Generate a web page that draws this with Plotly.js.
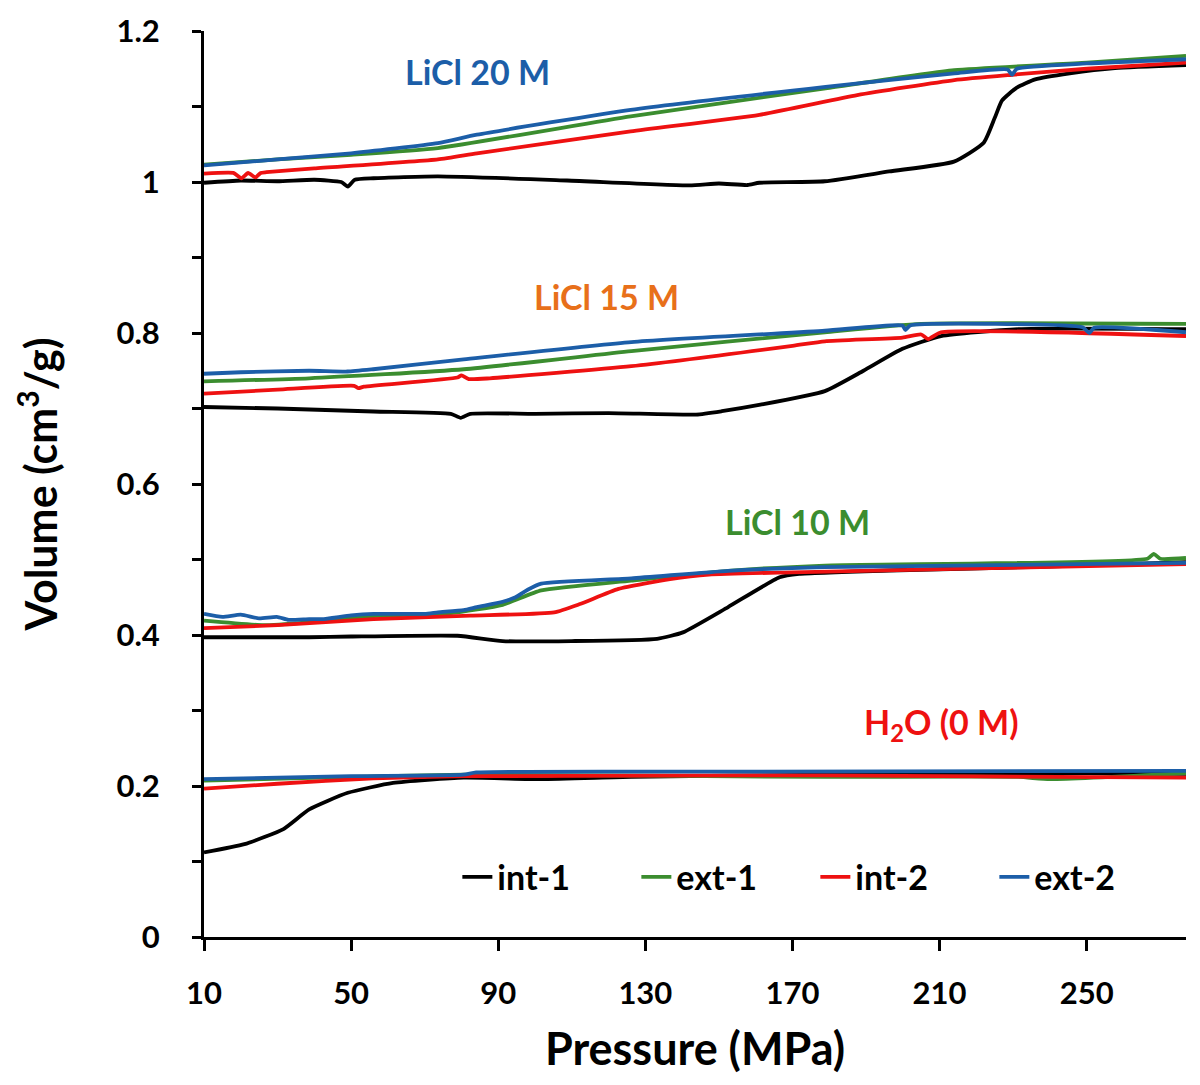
<!DOCTYPE html>
<html>
<head>
<meta charset="utf-8">
<script src="https://cdn.plot.ly/plotly-3.0.1.min.js"></script>
<style>
  html, body { margin: 0; padding: 0; background: #fff; }
  #chart { width: 1200px; height: 1085px; }
</style>
</head>
<body>
<div id="chart"></div>
<script>
// ---------- DATA ----------
const seriesNames = ["int-1", "ext-1", "int-2", "ext-2"];
const seriesColors = ["#000000", "#3b8d2f", "#ee1111", "#1c5ea8"];

// LiCl 20 M
const x20_int1 = [10, 20, 30, 40, 47.3, 49.1, 51, 56.1, 73.6, 108.7, 142, 150, 157.8, 161, 178.8, 196.3, 213.9, 222, 225, 227, 231, 236, 245.4, 257.7, 277];
const y20_int1 = [0.999, 1.002, 1.001, 1.003, 1.000, 0.994, 1.003, 1.005, 1.0075, 1.002, 0.9956, 0.998, 0.996, 0.999, 1.001, 1.014, 1.027, 1.052, 1.085, 1.108, 1.125, 1.136, 1.144, 1.151, 1.155];
const x20_ext1 = [10, 30, 50, 73.6, 126, 179, 214, 250, 277];
const y20_ext1 = [1.023, 1.030, 1.036, 1.045, 1.087, 1.124, 1.148, 1.158, 1.167];
const x20_int2 = [10, 18, 20.2, 22, 24, 25.4, 27, 40, 73.6, 84.2, 126, 161, 187.6, 214, 229.7, 250, 277];
const y20_int2 = [1.011, 1.012, 1.005, 1.012, 1.006, 1.012, 1.013, 1.018, 1.030, 1.038, 1.067, 1.089, 1.115, 1.135, 1.142, 1.150, 1.158];
const x20_ext2 = [10, 30, 50, 73.6, 84.2, 126, 179, 214, 228.5, 229.7, 231, 250, 277];
const y20_ext2 = [1.022, 1.030, 1.038, 1.0515, 1.0626, 1.0956, 1.126, 1.144, 1.149, 1.142, 1.150, 1.157, 1.1626];

// LiCl 15 M
const x15_int1 = [10, 30, 56.1, 77.1, 79.8, 82.4, 100, 120, 143.8, 150.8, 161.3, 178.8, 189.3, 199.9, 210.4, 231.4, 277];
const y15_int1 = [0.702, 0.700, 0.696, 0.693, 0.6876, 0.693, 0.693, 0.694, 0.692, 0.6964, 0.705, 0.723, 0.750, 0.779, 0.796, 0.805, 0.805];
const x15_ext1 = [10, 38.6, 80.6, 126.2, 178.8, 205, 277];
const y15_ext1 = [0.736, 0.740, 0.752, 0.776, 0.801, 0.812, 0.812];
const x15_int2 = [10, 30, 50.8, 52, 53.5, 78.9, 80, 82, 87.7, 126.2, 170, 178.8, 199.9, 205, 206.9, 210.4, 277];
const y15_int2 = [0.7196, 0.725, 0.730, 0.727, 0.729, 0.741, 0.744, 0.739, 0.740, 0.756, 0.783, 0.789, 0.794, 0.798, 0.792, 0.801, 0.796];
const x15_ext2 = [10, 20, 38.6, 49, 56, 80.6, 126.2, 178.8, 199.9, 200.7, 202, 248.9, 250.7, 252, 277];
const y15_ext2 = [0.746, 0.748, 0.750, 0.749, 0.752, 0.765, 0.788, 0.803, 0.810, 0.804, 0.810, 0.8075, 0.800, 0.807, 0.801];

// LiCl 10 M
const x10_int1 = [10, 38.6, 50, 78.9, 91.2, 110, 133.2, 140.2, 152.5, 166.5, 171.8, 196.3, 234.9, 277];
const y10_int1 = [0.397, 0.397, 0.398, 0.399, 0.392, 0.392, 0.395, 0.4035, 0.437, 0.4765, 0.481, 0.4854, 0.490, 0.4965];
const x10_ext1 = [10, 26.3, 38.6, 56.1, 77.1, 91.2, 101.7, 126.2, 152.5, 178.8, 266.5, 268.2, 270, 277];
const y10_ext1 = [0.419, 0.413, 0.417, 0.425, 0.429, 0.440, 0.459, 0.472, 0.485, 0.492, 0.501, 0.5075, 0.501, 0.502];
const x10_int2 = [10, 30, 56.1, 82.4, 105.2, 112.2, 122.7, 136.7, 147.3, 170, 213.9, 277];
const y10_int2 = [0.409, 0.413, 0.421, 0.4257, 0.430, 0.441, 0.461, 0.474, 0.480, 0.483, 0.4876, 0.494];
const x10_ext2 = [10, 15, 20, 25, 29.8, 33, 38.6, 42.1, 50, 56.1, 70, 73.6, 80.6, 84.2, 91.2, 94.7, 98, 101.7, 126.2, 152.5, 178.8, 277];
const y10_ext2 = [0.428, 0.424, 0.427, 0.422, 0.424, 0.420, 0.421, 0.421, 0.426, 0.428, 0.428, 0.430, 0.433, 0.437, 0.444, 0.450, 0.460, 0.468, 0.475, 0.485, 0.490, 0.4956];

// H2O (0 M)
const x0_int1 = [10, 21, 31.6, 38.6, 49.1, 61.4, 80.6, 101.7, 126.2, 178.8, 248.9, 277];
const y0_int1 = [0.112, 0.123, 0.143, 0.169, 0.191, 0.204, 0.211, 0.209, 0.212, 0.215, 0.217, 0.216];
const x0_ext1 = [10, 50, 80.6, 178.8, 231.4, 240, 277];
const y0_ext1 = [0.207, 0.212, 0.215, 0.212, 0.212, 0.209, 0.217];
const x0_int2 = [10, 30, 56.1, 80.6, 178.8, 277];
const y0_int2 = [0.1965, 0.203, 0.210, 0.213, 0.214, 0.211];
const x0_ext2 = [10, 50, 80.6, 84, 150, 277];
const y0_ext2 = [0.209, 0.213, 0.215, 0.218, 0.219, 0.220];

const groupLabels = ["LiCl 20 M", "LiCl 15 M", "LiCl 10 M", "H<sub>2</sub>O (0 M)"];
const groupLabelColors = ["#1c5ea8", "#e8701a", "#3b8d2f", "#ee1111"];
const groupLabelX = [84.4, 119.4, 171.3, 210.4];
const groupLabelY = [1.146, 0.848, 0.550, 0.282];

const xTickVals = [10, 50, 90, 130, 170, 210, 250];
const yTickVals = [0, 0.2, 0.4, 0.6, 0.8, 1, 1.2];
const yTickText = ["0", "0.2", "0.4", "0.6", "0.8", "1", "1.2"];

// ---------- BUILD ----------
const groups = [
  [[x20_int1, y20_int1], [x20_ext1, y20_ext1], [x20_int2, y20_int2], [x20_ext2, y20_ext2]],
  [[x15_int1, y15_int1], [x15_ext1, y15_ext1], [x15_int2, y15_int2], [x15_ext2, y15_ext2]],
  [[x10_int1, y10_int1], [x10_ext1, y10_ext1], [x10_int2, y10_int2], [x10_ext2, y10_ext2]],
  [[x0_int1, y0_int1], [x0_ext1, y0_ext1], [x0_int2, y0_int2], [x0_ext2, y0_ext2]]
];

const traces = [];
groups.forEach((g, gi) => {
  g.forEach((s, si) => {
    traces.push({
      x: s[0], y: s[1], type: "scatter", mode: "lines",
      name: seriesNames[si], legendgroup: seriesNames[si],
      showlegend: gi === 0,
      line: { color: seriesColors[si], width: 3.8, shape: "spline", smoothing: 0.5 }
    });
  });
});

const FONT = "Lato, 'Open Sans', sans-serif";

const annotations = groupLabels.map((t, i) => ({
  x: groupLabelX[i], y: groupLabelY[i], xref: "x", yref: "y",
  text: "<b>" + t + "</b>", showarrow: false,
  font: { family: FONT, size: 34, color: groupLabelColors[i] }
}));

const layout = {
  width: 1200, height: 1085,
  margin: { l: 204, r: 14, t: 31, b: 148 },
  paper_bgcolor: "#fff", plot_bgcolor: "#fff",
  font: { family: FONT, color: "#000" },
  showlegend: true,
  legend: {
    orientation: "h", x: 0.258, xanchor: "left", y: 0.066, yanchor: "middle",
    bgcolor: "rgba(0,0,0,0)", font: { family: FONT, size: 34, color: "#000", weight: "bold" },
    entrywidth: 134, entrywidthmode: "pixels", traceorder: "normal"
  },
  xaxis: {
    range: [10, 277], tickvals: xTickVals, ticktext: xTickVals.map(String),
    showgrid: false, zeroline: false, showline: true, linecolor: "#000", linewidth: 3,
    ticks: "outside", ticklen: 11, tickwidth: 3, tickcolor: "#000",
    ticklabelstandoff: 16,
    tickfont: { family: FONT, size: 31, color: "#000", weight: "bold" },
    title: { text: "<b>Pressure (MPa)</b>", font: { family: FONT, size: 45, color: "#000" }, standoff: 24 }
  },
  yaxis: {
    range: [0, 1.2], tickvals: yTickVals, ticktext: yTickText,
    showgrid: false, zeroline: false, showline: true, linecolor: "#000", linewidth: 3,
    ticks: "outside", ticklen: 9, tickwidth: 3, tickcolor: "#000",
    minor: { dtick: 0.1, ticks: "outside", ticklen: 9, tickwidth: 3, tickcolor: "#000", showgrid: false },
    ticklabelstandoff: 26,
    tickfont: { family: FONT, size: 31, color: "#000", weight: "bold" },
    title: { text: "<b>Volume (cm<sup>3</sup>/g)</b>", font: { family: FONT, size: 43, color: "#000" }, standoff: 46 }
  },
  annotations: annotations
};

Plotly.newPlot("chart", traces, layout, { displayModeBar: false, staticPlot: true });
</script>
</body>
</html>
